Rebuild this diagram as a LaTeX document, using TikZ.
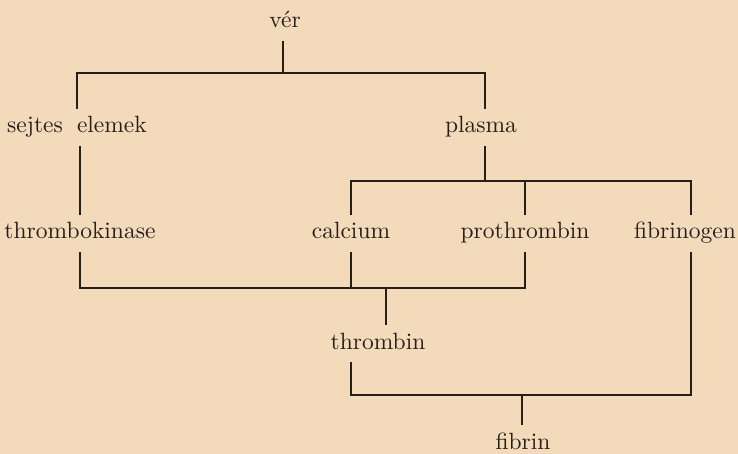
\documentclass[tikz,border=0pt]{standalone}
\usepackage{fontspec}
\setmainfont{lmroman10-regular}[Extension=.otf]
\usepackage{tikz}
\definecolor{paperTan}{RGB}{242, 218, 186}
\definecolor{inkDark}{RGB}{38, 30, 25}

\begin{document}
\begin{tikzpicture}[x=1pt, y=-1pt,
    term/.style={text=inkDark, font=\fontsize{23.5}{28}\selectfont, anchor=base,
      text height=16pt, text depth=5pt, inner xsep=0pt, inner ysep=8pt},
    link/.style={draw=inkDark, line width=1.7pt}]
    \fill[paperTan] (0,0) rectangle (738,454);
    \useasboundingbox (0,0) rectangle (738,454);
    % terms
    \node[term] (ver) at (285,28) {vér};
    \node[term] (sejtes) at (77,133) {sejtes\hspace{0.6em}elemek};
    \node[term] (plasma) at (481,133) {plasma};
    \node[term] (kinase) at (80,239) {thrombokinase};
    \node[term] (calcium) at (351,239) {calcium};
    \node[term] (prothrombin) at (525,239) {prothrombin};
    \node[term] (fibrinogen) at (685,239) {fibrinogen};
    \node[term] (thrombin) at (378,349) {thrombin};
    \node[term] (fibrin) at (523,449) {fibrin};
    % junctions
    \coordinate (verJ) at (283,73);
    \coordinate (plasmaJ) at (485,181);
    \coordinate (thrombinJ) at (386,288);
    \coordinate (fibrinJ) at (522,395);
    \coordinate (fibrinogenJ) at (691,395);
    % vér
    \draw[link] (ver.south -| verJ) -- (verJ);
    \draw[link] (sejtes.north) |- (verJ) -| (plasmaJ |- plasma.north);
    % plasma
    \draw[link] (plasma.south -| plasmaJ) -- (plasmaJ);
    \draw[link] (calcium.north) |- (fibrinogenJ |- plasmaJ) -- (fibrinogenJ |- fibrinogen.north);
    \draw[link] (prothrombin.north) -- (prothrombin.north |- plasmaJ);
    % thrombin
    \draw[link] (sejtes.south -| kinase.north) -- (kinase.north);
    \draw[link] (kinase.south) |- (prothrombin.south |- thrombinJ) -- (prothrombin.south);
    \draw[link] (calcium.south) -- (calcium.south |- thrombinJ);
    \draw[link] (thrombinJ) -- (thrombinJ |- thrombin.north);
    % fibrin
    \draw[link] (thrombin.south -| calcium.south) |- (fibrinogenJ) -- (fibrinogenJ |- fibrinogen.south);
    \draw[link] (fibrinJ) -- (fibrinJ |- fibrin.north);
\end{tikzpicture}
\end{document}
